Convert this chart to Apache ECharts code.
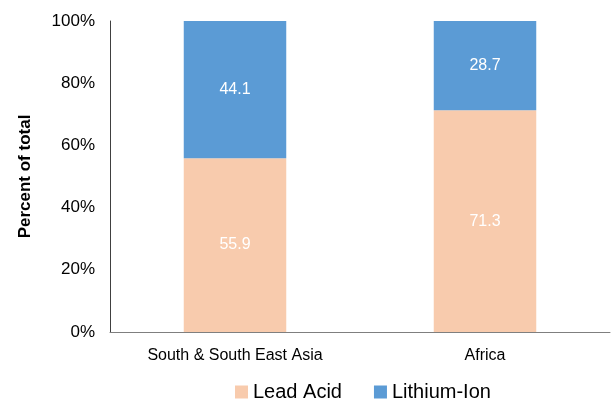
<!DOCTYPE html>
<html><head><meta charset="utf-8">
<script src="https://cdn.jsdelivr.net/npm/echarts@6/dist/echarts.min.js"></script>
<style>html,body{margin:0;padding:0;background:#fff}#c{width:616px;height:402px}</style>
</head><body><div id="c"></div>
<script>
const categories = ['South & South East Asia', 'Africa'];
const leadAcid = [55.9, 71.3];
const lithiumIon = [44.1, 28.7];
const yTicks = [0, 20, 40, 60, 80, 100];
const F = '"Liberation Sans", Arial, sans-serif';
const chart = echarts.init(document.getElementById('c'));
chart.setOption({
  animation: false,
  textStyle: {fontFamily: F},
  grid: {left: 110, right: 6, top: 21, bottom: 70},
  legend: {
    top: 382, left: 235, padding: 0, itemWidth: 13, itemHeight: 13, itemGap: 32,
    icon: 'rect',
    textStyle: {fontFamily: F, fontSize: 20, color: '#000'},
    data: ['Lead Acid', 'Lithium-Ion']
  },
  xAxis: {
    type: 'category', data: categories,
    axisLine: {lineStyle: {color: '#7f7f7f', width: 1}},
    axisTick: {show: false},
    axisLabel: {fontFamily: F, fontSize: 16, color: '#000', margin: 16}
  },
  yAxis: {
    type: 'value', min: 0, max: 100, interval: 20,
    name: 'Percent of total', nameLocation: 'middle', nameGap: 76,
    nameTextStyle: {fontFamily: F, fontSize: 17, fontWeight: 'bold', color: '#000'},
    axisLine: {show: true, lineStyle: {color: '#404040', width: 1}},
    axisTick: {show: false},
    splitLine: {show: false},
    axisLabel: {fontFamily: F, fontSize: 17, color: '#000', margin: 15,
      formatter: v => yTicks.includes(v) ? v + '%' : ''}
  },
  series: [
    {name: 'Lead Acid', type: 'bar', stack: 't', data: leadAcid, barWidth: '41%',
     itemStyle: {color: '#F8CBAD'},
     label: {show: true, position: 'inside', color: '#fff', fontSize: 16, fontFamily: F}},
    {name: 'Lithium-Ion', type: 'bar', stack: 't', data: lithiumIon, barWidth: '41%',
     itemStyle: {color: '#5B9BD5'},
     label: {show: true, position: 'inside', color: '#fff', fontSize: 16, fontFamily: F}}
  ]
});
</script></body></html>
